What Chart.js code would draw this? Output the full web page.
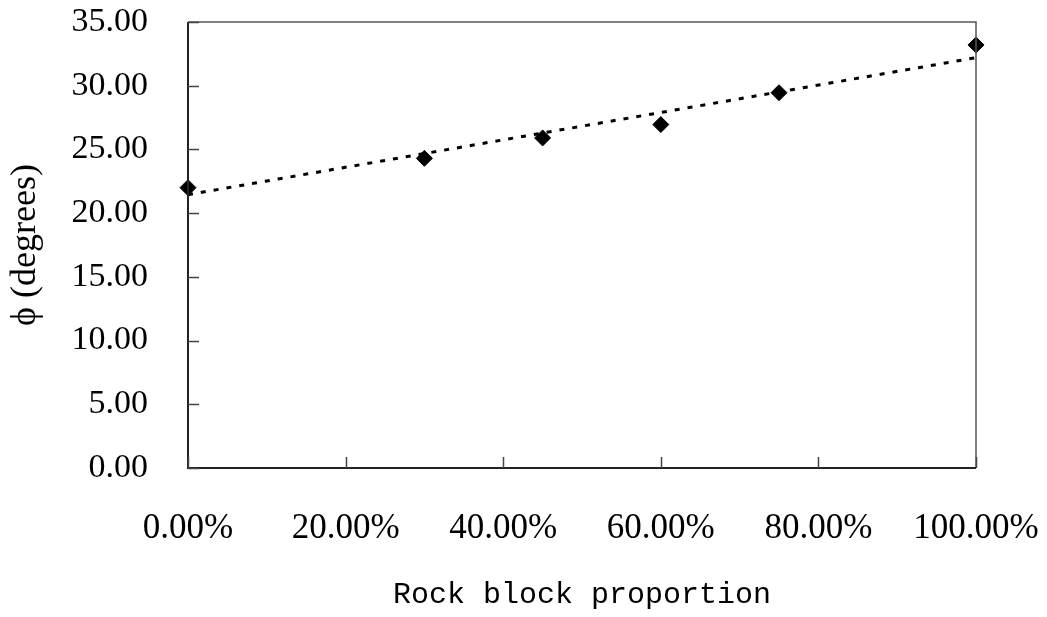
<!DOCTYPE html>
<html>
<head>
<meta charset="utf-8">
<script src="https://cdn.jsdelivr.net/npm/chart.js@4/dist/chart.umd.min.js"></script>
<style>
  html, body { margin: 0; padding: 0; background: #fff; }
  #wrap { width: 1047px; height: 617px; }
</style>
</head>
<body>
<div id="wrap"><canvas id="myChart" width="1047" height="617"></canvas></div>
<script>
// values
const proportions = [0, 0.30, 0.45, 0.60, 0.75, 1.00];
const frictionAngle = [22.0, 24.3, 25.9, 26.95, 29.45, 33.2];
// linear trend line end points (as drawn in the picture)
const trendX = [0, 1];
const trendY = [21.45, 32.2];

const xTicks = [0, 0.2, 0.4, 0.6, 0.8, 1.0];
const yTicks = [0, 5, 10, 15, 20, 25, 30, 35];

const serif = "'Liberation Serif', 'Times New Roman', serif";

// ticks in the reference point into the plot, and the plot has a box
const innerTicks = {
  id: "innerTicks",
  afterDraw(chart) {
    let ctx = chart.ctx;
    let area = chart.chartArea;
    let x = chart.scales.x;
    let y = chart.scales.y;
    ctx.save();
    // box on top / right
    ctx.strokeStyle = "#555";
    ctx.lineWidth = 1.5;
    ctx.beginPath();
    ctx.moveTo(area.left, area.top);
    ctx.lineTo(area.right, area.top);
    ctx.lineTo(area.right, area.bottom);
    ctx.stroke();
    // axis lines
    ctx.strokeStyle = "#222";
    ctx.lineWidth = 2;
    ctx.beginPath();
    ctx.moveTo(area.left, area.top);
    ctx.lineTo(area.left, area.bottom);
    ctx.lineTo(area.right, area.bottom);
    ctx.stroke();
    ctx.lineWidth = 1.5;
    ctx.strokeStyle = "#444";
    ctx.beginPath();
    yTicks.forEach((v) => {
      let py = Math.round(y.getPixelForValue(v)) + 0.5;
      ctx.moveTo(area.left, py);
      ctx.lineTo(area.left + 11, py);
    });
    xTicks.forEach((v) => {
      let px = Math.round(x.getPixelForValue(v)) + 0.5;
      ctx.moveTo(px, area.bottom);
      ctx.lineTo(px, area.bottom - 11);
    });
    ctx.stroke();
    ctx.restore();
  },
};

const ctx = document.getElementById("myChart");

new Chart(ctx, {
  type: "scatter",
  data: {
    datasets: [
      {
        label: "phi",
        data: proportions.map((p, i) => ({ x: p, y: frictionAngle[i] })),
        pointStyle: "rectRot",
        pointRadius: 8,
        pointBackgroundColor: "#000",
        pointBorderColor: "#000",
        pointBorderWidth: 1,
        showLine: false,
        clip: false,
        order: 1,
      },
      {
        label: "trend",
        data: trendX.map((p, i) => ({ x: p, y: trendY[i] })),
        showLine: true,
        borderColor: "#000",
        borderWidth: 3,
        borderDash: [5, 8],
        pointRadius: 0,
        order: 2,
      },
    ],
  },
  options: {
    responsive: false,
    animation: false,
    layout: { padding: { top: 22, right: 71, left: 0, bottom: 0 } },
    plugins: {
      legend: { display: false },
      tooltip: { enabled: false },
    },
    scales: {
      x: {
        type: "linear",
        min: 0,
        max: 1,
        afterBuildTicks: (scale) => {
          scale.ticks = xTicks.map((v) => ({ value: v }));
        },
        afterFit: (scale) => {
          scale.height = 149;
          scale.paddingLeft = 0;
          scale.paddingRight = 0;
        },
        grid: { display: false, drawTicks: false },
        border: { display: false },
        ticks: {
          padding: 40,
          color: "#000",
          font: { family: serif, size: 35 },
          maxRotation: 0,
          callback: (v) => (v * 100).toFixed(2) + "%",
        },
        title: {
          display: true,
          text: "Rock block proportion",
          color: "#000",
          font: { family: "'Liberation Mono', 'DejaVu Sans Mono', monospace", size: 30 },
          padding: { top: 30 },
        },
      },
      y: {
        type: "linear",
        min: 0,
        max: 35,
        afterBuildTicks: (scale) => {
          scale.ticks = yTicks.map((v) => ({ value: v }));
        },
        afterFit: (scale) => {
          scale.width = 188;
          scale.paddingTop = 0;
          scale.paddingBottom = 0;
        },
        grid: { display: false, drawTicks: false },
        border: { display: false },
        ticks: {
          padding: 40,
          color: "#000",
          font: { family: serif, size: 34 },
          callback: (v) => v.toFixed(2),
        },
        title: {
          display: true,
          text: "\u03d5 (degrees)",
          color: "#000",
          font: { family: serif, size: 36 },
          padding: { bottom: 0 },
        },
      },
    },
  },
  plugins: [innerTicks],
});
</script>
</body>
</html>
